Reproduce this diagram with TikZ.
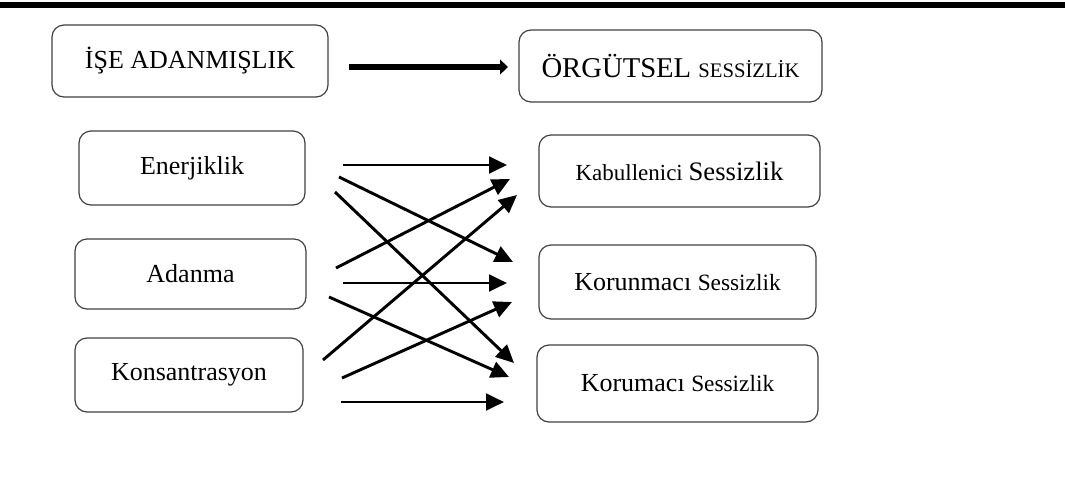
\documentclass[tikz,border=0pt]{standalone}
\usepackage{fontspec}
\setmainfont{Liberation Serif}
\usetikzlibrary{arrows.meta}
\newcommand{\fs}[1]{\fontsize{#1}{1.2\dimexpr#1pt\relax}\selectfont}
\begin{document}
\begin{tikzpicture}[x=0.75pt,y=-0.75pt,
  box/.style={draw=black!75,line width=0.9pt,rounded corners=9pt,inner sep=0pt,align=center},
  link/.style={line width=2.2pt,-{Triangle[length=13.5pt,width=12.5pt]}},
  biglink/.style={line width=4.8pt,-{Triangle[length=6pt,width=11pt]}}]
\useasboundingbox (0,0) rectangle (1065,490);
% heading rule
\fill (0,1.5) rectangle (1065,8);

% top row
\node[box,minimum width=207pt,minimum height=54pt] (ise) at (190,61) {\fs{19.5}İŞE ADANMIŞLIK};
\node[box,minimum width=227.25pt,minimum height=54pt] (org) at (670.5,66)
  {\fs{21.5}ÖRGÜTSEL \fs{15.5}SESSİZLİK};

% dimensions of work engagement
\node[box,minimum width=169.5pt,minimum height=55.5pt] (ener) at (192,168) {\fs{19.5}Enerjiklik};
\node[box,minimum width=173.25pt,minimum height=52.5pt] (adan) at (190.5,274) {\fs{19.5}Adanma};
\node[box,minimum width=171pt,minimum height=55.5pt] (kons) at (189,375) {\fs{19.5}Konsantrasyon};

% dimensions of organisational silence
\node[box,minimum width=210.75pt,minimum height=54pt] (kab) at (679.5,171)
  {\fs{17.25}Kabullenici \fs{20}Sessizlik};
\node[box,minimum width=207.75pt,minimum height=55.5pt] (korun) at (677.5,282)
  {\fs{19.5}Korunmacı \fs{17.5}Sessizlik};
\node[box,minimum width=210.75pt,minimum height=57.75pt] (korum) at (677.5,383.5)
  {\fs{19.5}Korumacı \fs{17.5}Sessizlik};

% main relation
\coordinate (m0) at (349,67);
\coordinate (m1) at (508,67);
\draw[biglink] (m0) -- (m1);

% arrow end points
\coordinate (a1) at (343,165); \coordinate (b1) at (507,165);
\coordinate (a2) at (339,177); \coordinate (b2) at (513,262);
\coordinate (a3) at (335,192); \coordinate (b3) at (514,363);
\coordinate (a4) at (336,268); \coordinate (b4) at (510,179);
\coordinate (a5) at (343,283); \coordinate (b5) at (507,283);
\coordinate (a6) at (329,297); \coordinate (b6) at (509,377);
\coordinate (a7) at (323,360); \coordinate (b7) at (517,195);
\coordinate (a8) at (342,378); \coordinate (b8) at (512,302);
\coordinate (a9) at (341,402); \coordinate (b9) at (504,402);

\foreach \i in {1,...,9} \draw[link] (a\i) -- (b\i);
\end{tikzpicture}
\end{document}
